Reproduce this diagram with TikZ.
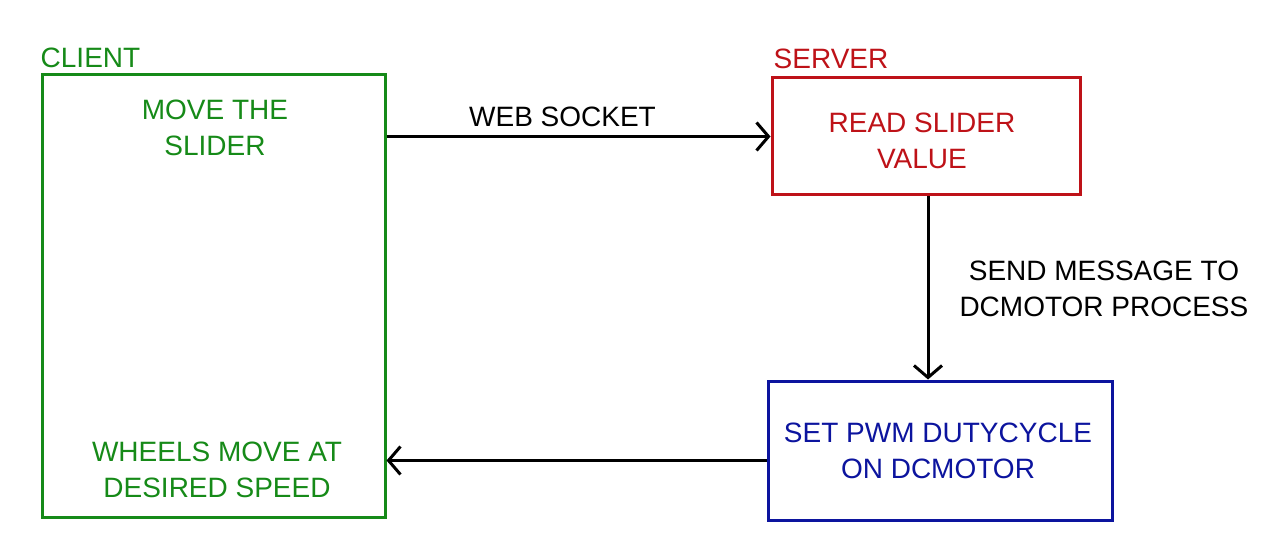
\documentclass[tikz,border=0pt]{standalone}
\usepackage{fontspec}
\setmainfont{Liberation Sans}
\usetikzlibrary{positioning,arrows.meta}
\definecolor{clientgreen}{RGB}{22,138,24}
\definecolor{serverred}{RGB}{190,18,24}
\definecolor{motorblue}{RGB}{12,20,158}
\begin{document}
\begin{tikzpicture}[x=1pt,y=-1pt,
    font=\fontsize{28}{36}\selectfont,
    box/.style={draw,line width=3pt,inner sep=0pt},
    arr/.style={draw,line width=3pt,-{Straight Barb[length=12pt,width=28pt,line width=3pt]}},
    ]
  \useasboundingbox (0,0) rectangle (1280,545);
  \begin{scope}[every node/.style={box}]
    \node[clientgreen,minimum width=343pt,minimum height=442pt] (client) at (213.5,296) {};
    \node[serverred,minimum width=308pt,minimum height=117pt]   (server) at (926,136.5) {};
    \node[motorblue,minimum width=344pt,minimum height=139pt]   (pwm)    at (940,450.5) {};
  \end{scope}
  \begin{scope}[every node/.style={align=center,inner sep=0pt}]
    \node[clientgreen,above right=6pt and 0pt of client.north west] (client-title) {CLIENT};
    \node[serverred,above right=8pt and 3pt of server.north west]   (server-title) {SERVER};
    \node[clientgreen] (client-move)   at (215,128) {MOVE THE\\SLIDER};
    \node[clientgreen] (client-wheels) at (217,470) {WHEELS MOVE AT\\DESIRED SPEED};
    \node[serverred]   (server-read)   at (922,141) {READ SLIDER\\VALUE};
    \node[motorblue]   (pwm-set)       at (938,451) {SET PWM DUTYCYCLE\\ON DCMOTOR};
  \end{scope}
  \coordinate (pwm-out) at ([yshift=-10pt]pwm.west);
  \begin{scope}[every path/.style={arr}]
    \path (client.east |- server.west) -- (server.west)
      node[midway,above=8pt,xshift=-16pt,inner sep=0pt] (websocket) {WEB SOCKET};
    \path ([xshift=2pt]server.south) -- ([xshift=2pt]server.south |- pwm.north)
      node[midway,right=30pt,yshift=-1pt,inner sep=0pt,align=center] (send-msg) {SEND MESSAGE TO\\DCMOTOR PROCESS};
    \path (pwm-out) -- (pwm-out -| client.east);
  \end{scope}
\end{tikzpicture}
\end{document}
